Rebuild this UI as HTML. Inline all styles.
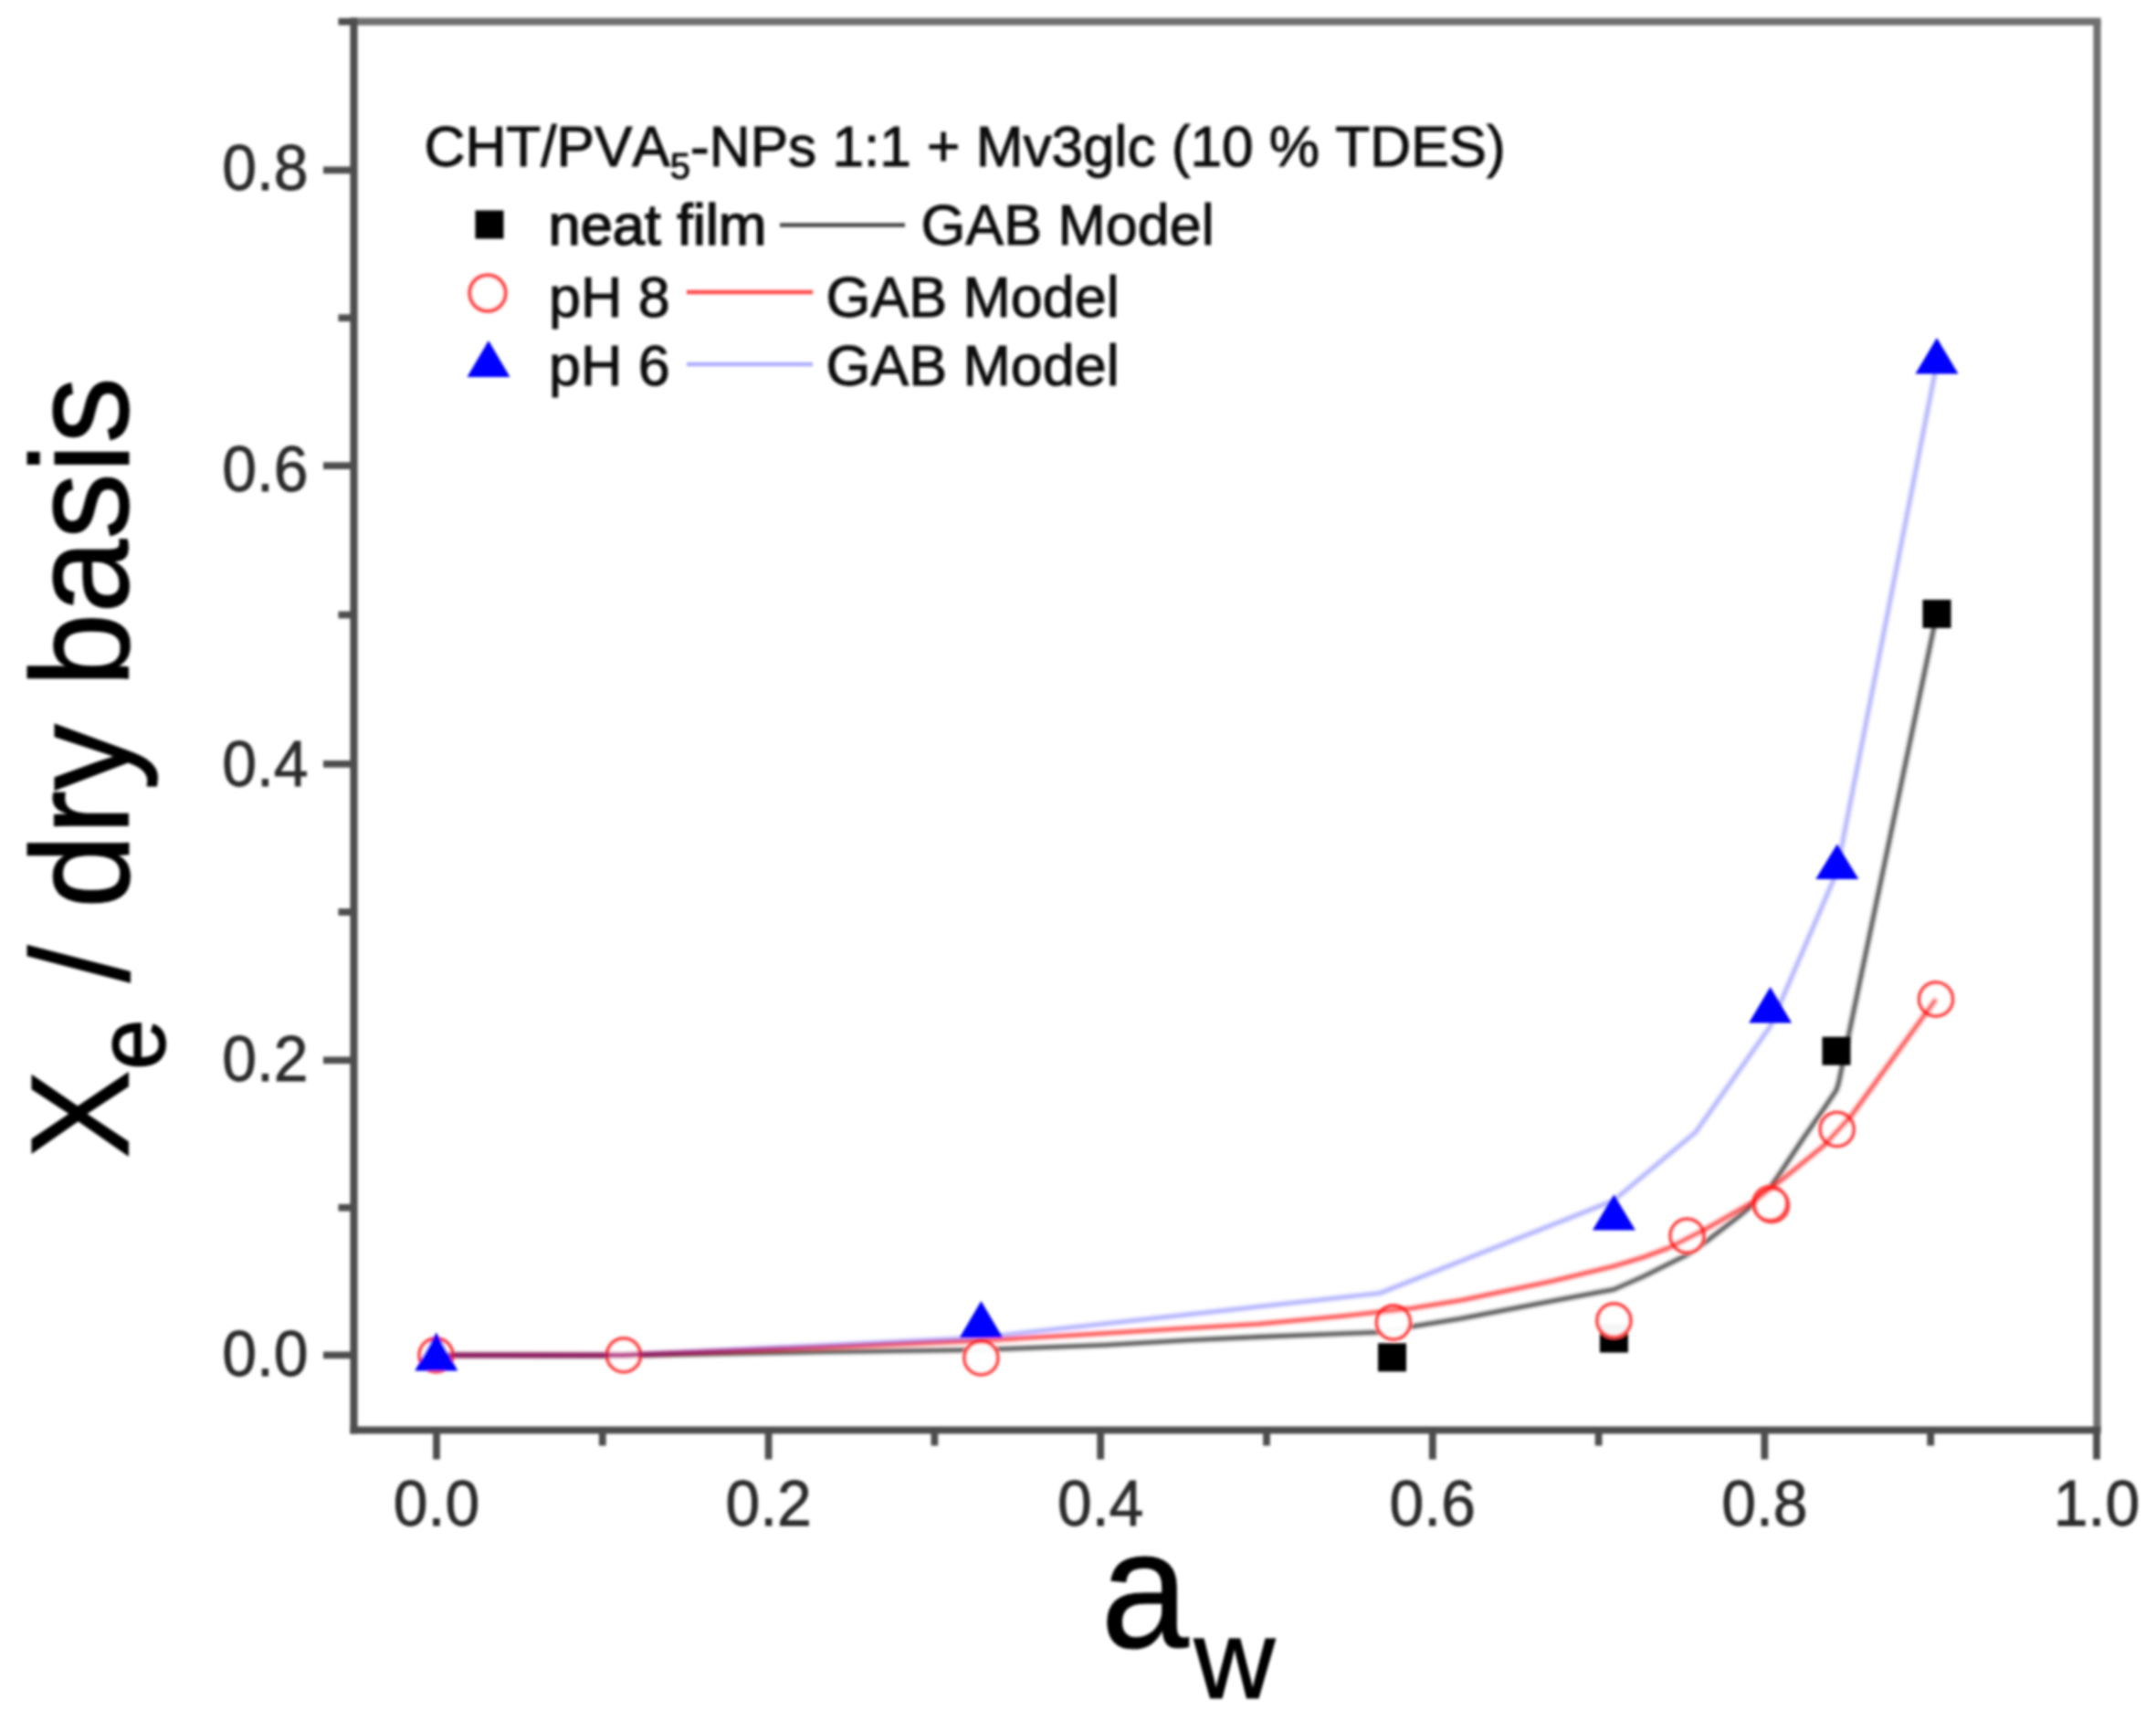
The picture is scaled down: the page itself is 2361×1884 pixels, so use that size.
<!DOCTYPE html><html><head><meta charset="utf-8"><title>Sorption isotherm</title>
<style>html,body{margin:0;padding:0;background:#fff}svg{display:block}text{font-family:"Liberation Sans",Arial,sans-serif;font-kerning:none}</style></head><body>
<svg width="2361" height="1884" viewBox="0 0 2361 1884">
<rect width="2361" height="1884" fill="#fff"/>
<defs><filter id="soft" x="0" y="0" width="100%" height="100%" filterUnits="userSpaceOnUse"><feGaussianBlur stdDeviation="1.5"/></filter><filter id="soft2" x="0" y="0" width="100%" height="100%" filterUnits="userSpaceOnUse"><feGaussianBlur stdDeviation="1.6"/></filter></defs>
<g id="all" filter="url(#soft)">
<rect x="1509.0" y="1471.3" width="31" height="31" fill="#000"/>
<rect x="1751.9" y="1450.5" width="31" height="31" fill="#000"/>
<rect x="1995.5" y="1135.7" width="31" height="31" fill="#000"/>
<rect x="2105.5" y="656.9" width="31" height="31" fill="#000"/>
<g filter="url(#soft2)">
<polyline points="478.0,1484.4 683.0,1484.8 900.0,1480.7 1074.0,1478.5 1211.0,1473.3 1300.0,1468.0 1378.0,1464.4 1471.0,1460.7 1511.0,1459.3 1546.0,1453.0 1600.0,1444.3 1700.0,1425.0 1750.5,1415.5 1767.0,1412.5 1800.0,1398.0 1846.8,1374.8 1869.0,1359.5 1905.0,1331.7 1933.0,1308.0 1947.0,1288.5 1974.8,1246.8 1997.0,1214.8 2011.0,1194.0 2013.5,1186.0 2121.0,672.0" fill="none" stroke="#000" stroke-opacity="0.72" stroke-width="4.6" stroke-linejoin="round"/>
</g>
<circle cx="477.5" cy="1484.4" r="18.3" fill="#fff" fill-opacity="0.96" stroke="#ff4a4a" stroke-width="4.2"/>
<circle cx="683.0" cy="1484.4" r="18.3" fill="#fff" fill-opacity="0.96" stroke="#ff4a4a" stroke-width="4.2"/>
<circle cx="1074.4" cy="1487.4" r="18.3" fill="#fff" fill-opacity="0.96" stroke="#ff4a4a" stroke-width="4.2"/>
<circle cx="1525.9" cy="1448.5" r="18.3" fill="#fff" fill-opacity="0.96" stroke="#ff4a4a" stroke-width="4.2"/>
<circle cx="1767.4" cy="1446.4" r="18.3" fill="#fff" fill-opacity="0.96" stroke="#ff4a4a" stroke-width="4.2"/>
<circle cx="1847.5" cy="1353.6" r="18.3" fill="#fff" fill-opacity="0.96" stroke="#ff4a4a" stroke-width="4.2"/>
<circle cx="1938.4" cy="1318.2" r="18.3" fill="#fff" fill-opacity="0.96" stroke="#ff4a4a" stroke-width="4.2"/>
<circle cx="2011.7" cy="1237.0" r="18.3" fill="#fff" fill-opacity="0.96" stroke="#ff4a4a" stroke-width="4.2"/>
<circle cx="2120.0" cy="1094.5" r="18.3" fill="#fff" fill-opacity="0.96" stroke="#ff4a4a" stroke-width="4.2"/>
<circle cx="1940.0" cy="1320.2" r="18.3" fill="none" fill-opacity="0.96" stroke="#ff4a4a" stroke-width="4.2"/>
<g filter="url(#soft2)">
<polyline points="478.0,1484.4 683.0,1484.4 900.0,1476.0 1074.0,1468.5 1192.8,1461.5 1285.0,1455.8 1378.0,1450.2 1471.0,1441.5 1546.0,1433.0 1600.0,1424.2 1700.0,1403.2 1767.0,1387.0 1800.0,1377.0 1827.0,1367.0 1869.0,1345.6 1919.0,1317.0 1952.5,1291.3 1997.0,1255.0 2027.7,1221.7 2120.0,1094.5" fill="none" stroke="#ff0000" stroke-opacity="0.72" stroke-width="4.6" stroke-linejoin="round"/>
</g>
<polygon points="477.8,1459.5 501.3,1501.5 454.3,1501.5" fill="#0000ff"/>
<polygon points="1074.4,1425.0 1097.9,1465.0 1050.9,1465.0" fill="#0000ff"/>
<polygon points="1767.4,1308.6 1790.9,1347.6 1743.9,1347.6" fill="#0000ff"/>
<polygon points="1938.6,1081.0 1962.1,1120.6 1915.1,1120.6" fill="#0000ff"/>
<polygon points="2011.8,924.5 2035.3,963.0 1988.3,963.0" fill="#0000ff"/>
<polygon points="2121.0,370.0 2144.5,409.6 2097.5,409.6" fill="#0000ff"/>
<g filter="url(#soft2)">
<polyline points="478.0,1484.4 683.0,1484.4 1074.0,1465.0 1511.0,1416.5 1767.0,1315.0 1857.0,1240.0 1938.7,1124.0 2011.0,956.5 2121.0,398.0" fill="none" stroke="#0000ff" stroke-opacity="0.32" stroke-width="4.6" stroke-linejoin="round"/>
</g>
<g stroke="#707070" stroke-width="8.2" fill="none">
<line x1="383.4" y1="23.7" x2="2300.6" y2="23.7"/>
<line x1="2296.5" y1="23.7" x2="2296.5" y2="1566.5"/>
</g>
<g stroke="#4d4d4d" stroke-width="8.2" fill="none">
<line x1="387.5" y1="19.6" x2="387.5" y2="1570.6"/>
<line x1="383.4" y1="1566.5" x2="2300.6" y2="1566.5"/>
</g><g stroke="#4d4d4d" stroke-width="7.8">
<line x1="354.0" y1="1484.4" x2="387.5" y2="1484.4"/>
<line x1="370.5" y1="1322.8" x2="387.5" y2="1322.8"/>
<line x1="354.0" y1="1161.3" x2="387.5" y2="1161.3"/>
<line x1="370.5" y1="999.0" x2="387.5" y2="999.0"/>
<line x1="354.0" y1="836.8" x2="387.5" y2="836.8"/>
<line x1="370.5" y1="673.5" x2="387.5" y2="673.5"/>
<line x1="354.0" y1="510.1" x2="387.5" y2="510.1"/>
<line x1="370.5" y1="348.2" x2="387.5" y2="348.2"/>
<line x1="354.0" y1="186.3" x2="387.5" y2="186.3"/>
<line x1="370.5" y1="23.7" x2="387.5" y2="23.7"/>
<line x1="478.0" y1="1566.5" x2="478.0" y2="1598.5"/>
<line x1="659.8" y1="1566.5" x2="659.8" y2="1583.5"/>
<line x1="841.6" y1="1566.5" x2="841.6" y2="1598.5"/>
<line x1="1023.4" y1="1566.5" x2="1023.4" y2="1583.5"/>
<line x1="1205.2" y1="1566.5" x2="1205.2" y2="1598.5"/>
<line x1="1387.0" y1="1566.5" x2="1387.0" y2="1583.5"/>
<line x1="1568.8" y1="1566.5" x2="1568.8" y2="1598.5"/>
<line x1="1750.6" y1="1566.5" x2="1750.6" y2="1583.5"/>
<line x1="1932.4" y1="1566.5" x2="1932.4" y2="1598.5"/>
<line x1="2114.2" y1="1566.5" x2="2114.2" y2="1583.5"/>
<line x1="2296.0" y1="1566.5" x2="2296.0" y2="1598.5"/>
</g>
<g font-size="69.7" fill="#2a2a2a" stroke="#2a2a2a" stroke-width="0.9">
<text transform="translate(337.5,208.1) scale(0.974,1)" text-anchor="end">0.8</text>
<text transform="translate(337.5,537.6) scale(0.974,1)" text-anchor="end">0.6</text>
<text transform="translate(337.5,860.6) scale(0.974,1)" text-anchor="end">0.4</text>
<text transform="translate(337.5,1183.5) scale(0.974,1)" text-anchor="end">0.2</text>
<text transform="translate(337.5,1507.2) scale(0.974,1)" text-anchor="end">0.0</text>
<text transform="translate(478.0,1671.3) scale(0.974,1)" text-anchor="middle">0.0</text>
<text transform="translate(841.6,1671.3) scale(0.974,1)" text-anchor="middle">0.2</text>
<text transform="translate(1205.2,1671.3) scale(0.974,1)" text-anchor="middle">0.4</text>
<text transform="translate(1568.8,1671.3) scale(0.974,1)" text-anchor="middle">0.6</text>
<text transform="translate(1932.4,1671.3) scale(0.974,1)" text-anchor="middle">0.8</text>
<text transform="translate(2296.0,1671.3) scale(0.974,1)" text-anchor="middle">1.0</text>
</g>
<text transform="translate(140,1269) rotate(-90) scale(1,1.05)" font-size="145.5" fill="#000" stroke="#000" stroke-width="1.2">X<tspan font-size="100" dy="38">e</tspan><tspan dy="-38"> / dry basis</tspan></text>
<text transform="translate(1205.5,1804) scale(0.945,1)" font-size="183" fill="#000" stroke="#000" stroke-width="1.2">a</text>
<text x="1307.6" y="1860" font-size="123" fill="#000" stroke="#000" stroke-width="1.2">w</text>
<g font-size="62.8" fill="#111" stroke="#111" stroke-width="1.1">
<text x="464.5" y="182" font-size="62.15">CHT/PVA<tspan font-size="40" dy="14">5</tspan><tspan dy="-14">-NPs 1:1 + Mv3glc (10 % TDES)</tspan></text>
<text x="600.5" y="268" stroke-width="1.6" textLength="239" lengthAdjust="spacingAndGlyphs">neat film</text><text x="1008.5" y="268">GAB Model</text>
<text x="601" y="347">pH 8</text><text x="904.5" y="347">GAB Model</text>
<text x="601" y="422">pH 6</text><text x="904.5" y="422">GAB Model</text>
</g>
<rect x="520.5" y="230.5" width="31" height="31" fill="#000"/>
<circle cx="534.0" cy="321.0" r="19.5" fill="#fff" fill-opacity="0.96" stroke="#ff4a4a" stroke-width="4.5"/>
<polygon points="535.0,373.0 558.5,413.0 511.5,413.0" fill="#0000ff"/>
<line x1="854" y1="246.5" x2="991" y2="246.5" stroke="#000" stroke-opacity="0.72" stroke-width="4.6"/>
<line x1="752" y1="320" x2="890" y2="320" stroke="#f00" stroke-opacity="0.72" stroke-width="4.6"/>
<line x1="752" y1="399" x2="890" y2="399" stroke="#00f" stroke-opacity="0.32" stroke-width="4.6"/>
</g></svg></body></html>
